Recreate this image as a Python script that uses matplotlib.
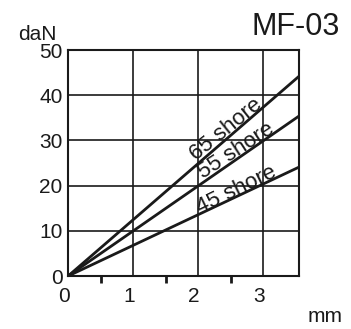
import numpy as np
import matplotlib
matplotlib.use("Agg")
import matplotlib.pyplot as plt
import matplotlib.transforms as mtransforms

plt.rcParams['font.family'] = ['Liberation Sans', 'DejaVu Sans']

# deflection (mm) vs force (daN)
x_end = 3.55
series = ["65 shore", "55 shore", "45 shore"]
force_at_end = [44.2, 35.4, 24.1]
label_pos = [(2.43, 32.3), (2.58, 27.7), (2.58, 19.0)]
label_rot = [39, 33, 26]

fig = plt.figure(figsize=(3.51, 3.29), dpi=100)
ax = fig.add_axes([0.194, 0.161, 0.658, 0.687])

for name, f, pos, rot in zip(series, force_at_end, label_pos, label_rot):
    ax.plot([0, x_end], [0, f], color="#1a1a1a", lw=2.0, solid_capstyle="butt")
    ax.text(pos[0], pos[1], name, rotation=rot, fontsize=16,
            ha="center", va="center", rotation_mode="anchor", color="#1a1a1a")

ax.set_xlim(0, x_end)
ax.set_ylim(0, 50)
ax.set_xticks([0, 1, 2, 3])
ax.set_yticks([0, 10, 20, 30, 40, 50])
ax.set_xticks([0.5, 1.5, 2.5], minor=True)
ax.grid(True, which="major", color="#1a1a1a", lw=1.2)
ax.tick_params(which="major", length=0, labelsize=15, colors="#1a1a1a")
ax.tick_params(axis="x", which="major", pad=8)
ax.tick_params(axis="y", which="major", pad=4)
ax.tick_params(which="minor", axis="x", direction="out", length=5, width=2, colors="#1a1a1a")
for s in ax.spines.values():
    s.set_linewidth(1.5)
    s.set_color("#1a1a1a")

shift = mtransforms.ScaledTranslation(-4 / 100, 0, fig.dpi_scale_trans)
for lab in ax.get_xticklabels():
    lab.set_transform(lab.get_transform() + shift)

fig.text(0.051, 0.878, "daN", fontsize=15, va="baseline", color="#1a1a1a")
fig.text(0.969, 0.894, "MF-03", fontsize=22, ha="right", va="baseline", color="#1a1a1a")
fig.text(0.877, 0.022, "mm", fontsize=15, va="baseline", color="#1a1a1a")

fig.savefig("out.png", dpi=100)
